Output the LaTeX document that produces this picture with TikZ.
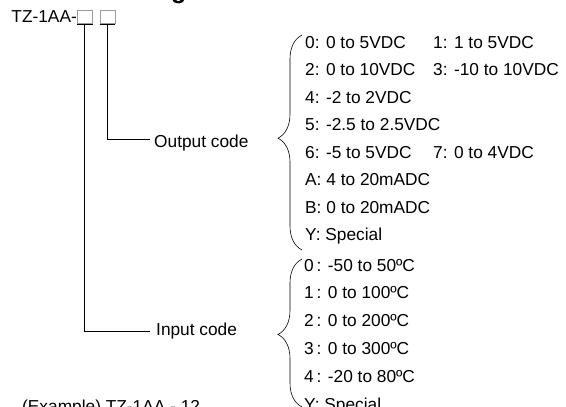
\documentclass[tikz,border=0pt]{standalone}
\usepackage{fontspec}
\setmainfont{Liberation Sans}
\usetikzlibrary{decorations.pathreplacing}
\definecolor{slotgray}{HTML}{9A9A9A}
\tikzset{
  txt/.style={anchor=base west, inner sep=0pt, font=\fontsize{17.3}{20}\selectfont},
  slot/.style={draw=slotgray, line width=0.6pt, minimum width=15pt, minimum height=13pt, inner sep=0pt, anchor=south west},
  lead/.style={line width=0.8pt},
  curly/.style={decorate, decoration={brace, amplitude=24pt, aspect=#1}, line width=0.6pt},
}

\begin{document}
\begin{tikzpicture}[x=1pt, y=-1pt]
  \useasboundingbox (0,0) rectangle (566,407);
  \def\lx{305}\def\rx{433}\def\dy{27.5}\def\dz{27.8}
  % heading and model code
  \node[anchor=base east, inner sep=0pt, font=\fontsize{25}{30}\selectfont\bfseries] (title) at (256,-1.5) {Ordering Code};
  \node[txt, anchor=base east] (model) at (77,22) {TZ-1AA-};
  \node[slot] (slotin) at (77,24) {};
  \node[slot] (slotout) at (99.5,24) {};
  \draw[lead] (slotin.south west) -- (slotin.south east);
  \draw[lead] (slotout.south west) -- (slotout.south east);
  % leaders
  \coordinate (outend) at (150,139);
  \coordinate (inend) at (150,331);
  \draw[lead] (slotout.south) |- (outend);
  \draw[lead] (slotin.south) |- (inend);
  \node[txt] (outlbl) at (154,147) {Output code};
  \node[txt] (inlbl) at (156,335.5) {Input code};
  % output code list
  \foreach \t [count=\i from 0] in {0: 0 to 5VDC, 2: 0 to 10VDC, 4: -2 to 2VDC, 5: -2.5 to 2.5VDC,
      6: -5 to 5VDC, A: 4 to 20mADC, B: 0 to 20mADC, Y: Special}
    \node[txt] (out\i) at (\lx,48+\i*\dy) {\t};
  \node[txt] (outr0) at (\rx,48) {1: 1 to 5VDC};
  \node[txt] (outr1) at (\rx,48+\dy) {3: -10 to 10VDC};
  \node[txt] (outr4) at (\rx,48+4*\dy) {7: 0 to 4VDC};
  % input code list
  \foreach \t [count=\i from 0] in {0\,: -50 to 50ºC, 1\,: 0 to 100ºC, 2\,: 0 to 200ºC, 3\,: 0 to 300ºC,
      4\,: -20 to 80ºC, Y: Special}
    \node[txt] (in\i) at (\lx-1,271+\i*\dz) {\t};
  % braces
  \coordinate (otop) at (302,35);
  \coordinate (obot) at (302,250);
  \coordinate (itop) at (302,259);
  \coordinate (ibot) at (302,407);
  \draw[curly=0.52] (obot) -- (otop);
  \draw[curly=0.49] (ibot) -- (itop);
  % example
  \node[txt] (example) at (22,412) {(Example) TZ-1AA - 12};
\end{tikzpicture}
\end{document}
